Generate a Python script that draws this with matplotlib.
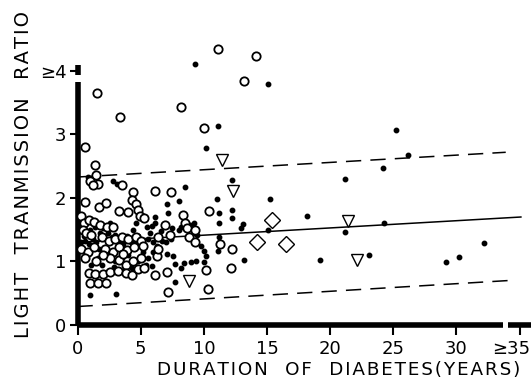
import numpy as np
import matplotlib
matplotlib.use("Agg")
import matplotlib.pyplot as plt
from matplotlib.transforms import ScaledTranslation

# open circles (duration years, ratio)
circ_x = [11.15, 14.1, 13.2, 1.52, 3.4, 8.2, 9.98, 0.57,
          1.35, 1.45, 1.0, 1.6, 1.2, 3.5, 4.4, 4.35, 4.6, 4.75, 4.96, 0.6, 1.7, 2.26,
          3.27, 4.03, 6.15, 7.37, 10.4, 8.32, 6.94, 8.5, 8.67, 9.3, 6.4, 7.34, 8.8,
          9.27, 5.3, 6.28, 7.1, 6.15, 7.16, 10.2, 10.3, 11.3, 12.2, 12.15,
          0.3, 0.5, 0.9, 1.3, 1.8, 2.3, 2.8, 0.4, 0.7, 1.1, 0.3, 0.8, 1.3, 1.9, 2.5,
          3.0, 3.5, 4.0, 4.6, 5.0, 2.2, 2.8, 3.3, 3.9, 4.5, 5.2, 0.6, 1.5, 2.6, 3.3,
          3.8, 4.4, 5.0, 0.9, 1.4, 2.0, 2.6, 3.2, 3.8, 4.3, 4.8, 5.3, 1.0, 1.65, 2.26,
          6.4, 2.0, 3.6]
circ_y = [4.34, 4.24, 3.85, 3.65, 3.28, 3.43, 3.10, 2.81,
          2.52, 2.36, 2.26, 2.22, 2.20, 2.21, 2.09, 1.97, 1.90, 1.81, 1.72, 1.93, 1.85, 1.92,
          1.80, 1.78, 2.11, 2.09, 1.80, 1.73, 1.57, 1.61, 1.52, 1.50, 1.39, 1.42, 1.39,
          1.30, 1.68, 1.08, 0.84, 0.79, 0.52, 0.86, 0.57, 1.28, 1.19, 0.90,
          1.72, 1.60, 1.65, 1.62, 1.58, 1.55, 1.55, 1.50, 1.45, 1.42, 1.20, 1.15, 1.22, 1.38, 1.33,
          1.36, 1.38, 1.35, 1.38, 1.33, 1.20, 1.15, 1.22, 1.18, 1.22, 1.25, 1.05, 1.00, 1.05, 1.02,
          0.95, 1.00, 1.05, 0.82, 0.80, 0.81, 0.83, 0.85, 0.82, 0.78, 0.88, 0.90, 0.66, 0.66, 0.66,
          1.20, 1.10, 1.12]

# filled dots
dot_x = [9.33, 15.1, 11.1, 10.2, 25.2, 26.15, 24.2, 21.15, 12.2, 8.5, 11.05, 15.2,
         11.2, 12.2, 12.2, 11.2, 18.2, 13.1, 12.95, 15.1, 21.15, 24.3, 11.2, 11.1,
         13.2, 19.2, 23.1, 29.2, 30.2, 32.2, 8.4, 9.0, 9.35, 10.0, 8.2, 10.0, 10.2,
         7.68, 7.08, 7.52, 7.68, 5.44, 5.9, 7.1, 7.2, 2.84, 3.1, 0.86, 6.15, 5.9,
         7.48, 8.0, 8.2, 8.9, 9.2, 9.45, 0.99, 3.06,
         0.3, 0.6, 0.9, 1.2, 1.5, 1.8, 2.1, 2.4, 2.7, 3.0, 3.3, 3.6, 3.9, 4.2, 4.5,
         4.8, 5.1, 5.6, 6.0, 6.3, 6.7, 7.0, 7.4, 1.0, 1.4, 2.0, 2.6, 0.5, 1.7, 2.4,
         3.0, 3.5, 4.0, 4.3, 3.5, 2.9, 1.9, 1.1, 1.6, 4.8, 5.2, 5.6, 6.0, 5.7, 4.6,
         5.5, 6.1, 4.4, 8.0, 9.8, 6.6]
dot_y = [4.11, 3.80, 3.14, 2.78, 3.07, 2.68, 2.48, 2.30, 2.28, 2.18, 1.98, 1.98,
         1.76, 1.81, 1.69, 1.60, 1.72, 1.59, 1.52, 1.49, 1.46, 1.60, 1.38, 1.17,
         1.03, 1.02, 1.10, 0.99, 1.07, 1.29, 0.98, 0.99, 1.01, 0.99, 0.89, 1.17, 1.09,
         0.96, 1.12, 1.08, 0.67, 0.94, 0.93, 1.91, 1.76, 2.26, 2.22, 2.33, 1.70, 1.56,
         1.52, 1.50, 1.55, 1.57, 1.60, 1.42, 0.47, 0.49,
         1.30, 1.33, 1.28, 1.35, 1.30, 1.45, 1.40, 1.45, 1.38, 1.42, 1.30, 1.28, 1.40, 1.30, 1.32,
         1.40, 1.28, 1.35, 1.30, 1.25, 1.33, 1.30, 1.35, 1.50, 1.55, 1.52, 1.60, 1.40, 1.20, 1.10,
         1.00, 1.05, 1.10, 0.90, 0.85, 0.92, 0.95, 0.95, 1.05, 1.00, 1.15, 1.05, 1.15, 1.45, 1.60,
         1.55, 1.60, 1.50, 1.95, 1.25, 1.48]

tri_x = [11.4, 12.3, 21.4, 22.15, 8.8]
tri_y = [2.60, 2.11, 1.63, 1.02, 0.70]
dia_x = [15.4, 14.2, 16.5]
dia_y = [1.65, 1.31, 1.27]

# regression line and limits: (intercept, slope, x end)
fit = (1.30, 0.0114, 35.1)
upper = (2.33, 0.0115, 33.9)
lower = (0.29, 0.0120, 34.1)

xticks = [0, 5, 10, 15, 20, 25, 30, 35]
xticklabels = ["0", "5", "10", "15", "20", "25", "30", "≥35"]
yticks = [0, 1, 2, 3, 4]
yticklabels = ["0", "1", "2", "3", "≥4"]

def spaced(s):
    # hair space between letters, the original lettering is set wide
    return "\u200a".join(s)

fig = plt.figure(figsize=(5.31, 3.85), dpi=100)
ax = fig.add_axes([0.146, 0.156, 0.854, 0.742])
ax.set_xlim(0, 35.9)
ax.set_ylim(0, 4.5)
for s in ax.spines.values():
    s.set_visible(False)

# axis lines with breaks
ax.plot([0, 33.65], [0, 0], color="black", lw=4, solid_capstyle="butt", clip_on=False)
ax.plot([34.05, 35.9], [0, 0], color="black", lw=4, solid_capstyle="butt", clip_on=False)
ax.plot([0, 0], [0, 3.83], color="black", lw=4, solid_capstyle="butt", clip_on=False)
ax.plot([0, 0], [3.94, 4.1], color="black", lw=4, solid_capstyle="butt", clip_on=False)

for (b, m, xe), ls in [(fit, "-"), (upper, (0, (10, 6))), (lower, (0, (10, 6)))]:
    xs = np.array([0, xe])
    ax.plot(xs, b + m * xs, color="black", lw=1.1, linestyle=ls)

ax.plot(dot_x, dot_y, "o", color="black", ms=3.2, ls="none", clip_on=False)
ax.plot(circ_x, circ_y, "o", mfc="white", mec="black", mew=1.3, ms=6.0, ls="none", clip_on=False)
ax.plot(tri_x, tri_y, "v", mfc="white", mec="black", mew=1.0, ms=8.5, ls="none")
ax.plot(dia_x, dia_y, "D", mfc="white", mec="black", mew=1.0, ms=8, ls="none")

ax.set_xticks(xticks)
ax.set_xticklabels(xticklabels, fontsize=13)
ax.set_yticks(yticks)
ax.set_yticklabels(yticklabels, fontsize=13)
ax.tick_params(axis="x", length=7, width=1.5, direction="out", pad=4)
ax.tick_params(axis="y", length=6, width=1.5, direction="out", pad=2)

last = ax.get_xticklabels()[-1]
last.set_ha("right")
last.set_transform(last.get_transform() + ScaledTranslation(11 / 100, 0, fig.dpi_scale_trans))

ax.set_xlabel(spaced("DURATION  OF  DIABETES(YEARS)"), fontsize=13.2, labelpad=2, x=0.577)
ax.set_ylabel(spaced("LIGHT  TRANMISSION  RATIO"), fontsize=14, labelpad=5, y=0.525)

fig.savefig("out.png", dpi=100)
